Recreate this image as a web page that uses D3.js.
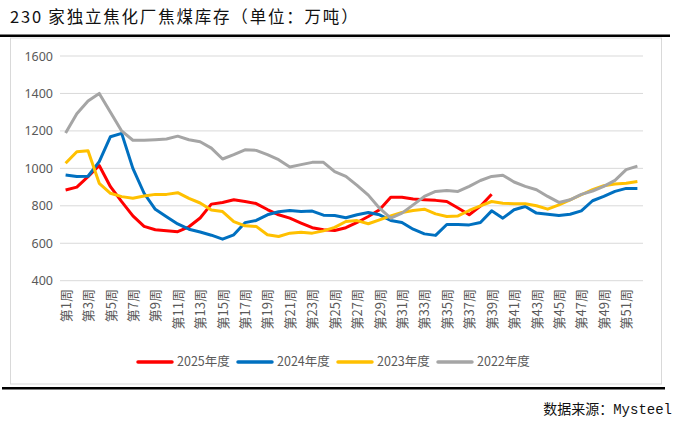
<!DOCTYPE html>
<head>
    <meta charset="utf-8" />
    <script src="https://d3js.org/d3.v7.min.js"></script>
    <style>
        body {
            margin: 0;
            background: #fff;
        }
        text {
            font-family: "Noto Sans CJK SC", "Noto Sans", sans-serif;
        }
    </style>
    <title>焦煤库存</title>
</head>

<body>
    <script>
        var width = 675,
            height = 423;

        // data (万吨)
        var weeks = d3.range(1, 53).map(w => "第" + w + "周");
        var y2025 = [884, 900, 956, 1015, 902, 822, 746, 690, 672, 667, 662, 688, 735, 809, 818, 832, 823, 812, 780, 752,
            734, 708, 683, 672, 668, 683, 711, 743, 779, 846, 846, 836, 832, 829, 823, 788, 752, 798, 862];
        var y2024 = [964, 956, 958, 1036, 1169, 1187, 1000, 867, 781, 742, 703, 675, 660, 643, 622, 645, 710, 722, 752, 768,
            775, 770, 772, 750, 748, 736, 752, 764, 752, 722, 711, 675, 650, 642, 700, 700, 698, 711, 773, 734,
            779, 796, 761, 755, 748, 755, 773, 827, 850, 877, 893, 893];
        var y2023 = [1027, 1089, 1094, 920, 867, 849, 840, 852, 861, 861, 870, 840, 815, 778, 769, 716, 693, 690, 645, 636,
            654, 659, 654, 666, 685, 716, 721, 704, 725, 746, 764, 775, 782, 757, 743, 746, 775, 800, 823, 814,
            811, 811, 800, 782, 805, 832, 859, 886, 907, 916, 921, 930];
        var y2022 = [1189, 1292, 1360, 1400, 1300, 1200, 1150, 1150, 1153, 1157, 1172, 1153, 1142, 1108, 1050, 1073, 1099, 1096, 1073, 1046,
            1007, 1020, 1032, 1032, 982, 957, 909, 857, 787, 734, 761, 805, 850, 877, 882, 877, 904, 935, 957, 963,
            927, 904, 886, 850, 818, 832, 861, 879, 904, 936, 993, 1012];
        var yTicks = [400, 600, 800, 1000, 1200, 1400, 1600];

        var series = [
            { name: "2025年度", values: y2025, color: "#ff0000" },
            { name: "2024年度", values: y2024, color: "#0070c0" },
            { name: "2023年度", values: y2023, color: "#ffc000" },
            { name: "2022年度", values: y2022, color: "#a5a5a5" }
        ];

        var svg = d3.select("body").append("svg")
            .attr("width", width)
            .attr("height", height);

        // title + rules
        svg.append("text")
            .attr("x", 10).attr("y", 23)
            .attr("font-size", 16.5)
            .attr("letter-spacing", 1.8)
            .attr("fill", "#111")
            .text("230 家独立焦化厂焦煤库存（单位：万吨）");
        svg.append("rect").attr("x", 0).attr("y", 34.5).attr("width", 670).attr("height", 2.5).attr("fill", "#000");
        svg.append("rect").attr("x", 10.5).attr("y", 38).attr("width", 651).attr("height", 346)
            .attr("fill", "#fff").attr("stroke", "#d9d9d9");
        svg.append("rect").attr("x", 2).attr("y", 387).attr("width", 663).attr("height", 2.5).attr("fill", "#000");
        svg.append("text")
            .attr("x", 672).attr("y", 414)
            .attr("text-anchor", "end")
            .attr("font-size", 14)
            .style("font-family", "'Liberation Mono', 'Noto Sans CJK SC', monospace")
            .attr("fill", "#111")
            .text("数据来源：Mysteel");

        var x = d3.scalePoint().domain(weeks).range([60, 643]).padding(0.5);
        var y = d3.scaleLinear().domain([400, 1600]).range([280.7, 56]);

        // grid
        svg.append("g").selectAll("line").data(yTicks).join("line")
            .attr("x1", 60).attr("x2", 643)
            .attr("y1", d => y(d)).attr("y2", d => y(d))
            .attr("stroke", "#d9d9d9").attr("stroke-width", 1);

        var yAxis = svg.append("g")
            .attr("transform", "translate(57,0)")
            .call(d3.axisLeft(y).tickValues(yTicks).tickFormat(d3.format("d")).tickSize(0).tickPadding(4));
        yAxis.select(".domain").remove();
        yAxis.selectAll("text")
            .attr("font-size", 12.5).attr("fill", "#595959")
            .style("font-family", "'Noto Sans', sans-serif");

        var xAxis = svg.append("g")
            .attr("transform", "translate(0,289)")
            .call(d3.axisBottom(x).tickValues(weeks.filter((d, i) => i % 2 === 0)).tickSize(0));
        xAxis.select(".domain").remove();
        xAxis.selectAll("text")
            .attr("font-size", 13)
            .attr("fill", "#595959")
            .attr("text-anchor", "end")
            .attr("dy", "0.35em")
            .attr("transform", "rotate(-90)")
            .attr("x", 0).attr("y", 0);

        var line = d3.line()
            .x((d, i) => x(weeks[i]))
            .y(d => y(d));

        svg.append("g").selectAll("path").data(series).join("path")
            .attr("d", d => line(d.values))
            .attr("fill", "none")
            .attr("stroke", d => d.color)
            .attr("stroke-width", 3)
            .attr("stroke-linejoin", "round");

        // legend
        var legendX = [138, 238, 338, 438];
        var lg = svg.append("g").selectAll("g").data(series).join("g")
            .attr("transform", (d, i) => "translate(" + legendX[i] + ",362)");
        lg.append("line")
            .attr("x1", 0).attr("x2", 34)
            .attr("stroke", d => d.color).attr("stroke-width", 3.5).attr("stroke-linecap", "round");
        lg.append("text")
            .attr("x", 39).attr("dy", "0.35em")
            .attr("font-size", 12.5).attr("fill", "#595959")
            .text(d => d.name);
    </script>
</body>
